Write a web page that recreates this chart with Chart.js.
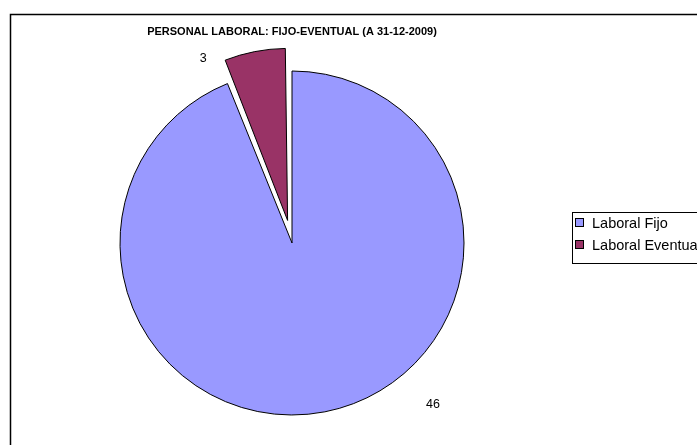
<!DOCTYPE html>
<html>
<head>
<meta charset="utf-8">
<script src="https://cdn.jsdelivr.net/npm/chart.js@4"></script>
<style>
  html, body { margin: 0; padding: 0; background: #fff; }
  #wrap { width: 697px; height: 445px; position: relative; overflow: hidden; }
  #inner { width: 697px; height: 480px; position: relative; }
</style>
</head>
<body>
<div id="wrap"><div id="inner"><canvas id="pieChart"></canvas></div></div>
<script>
// Data
const chartTitle = 'PERSONAL LABORAL: FIJO-EVENTUAL (A 31-12-2009)';
const categories = ['Laboral Fijo', 'Laboral Eventual'];
const values = [46, 3];
const sliceColors = ['#9999FF', '#993366'];
// Chart.js moves an arc by offset/4, so 92 -> about 23px
const sliceOffsets = [0, 92];

// where the value labels sit, relative to each slice (in radius units)
const labelPlace = [[0.82, 0.94], [-0.49, -0.94]];

// offset also grows the arc (by offset/4 * (1 - sin(circumference))):
// undo that so the exploded slice keeps the pie's radius
const keepRadiusPlugin = {
    id: 'keepRadius',
    afterDatasetsUpdate(chart){
        chart.getDatasetMeta(0).data.forEach((arc, i)=>{
            const off = sliceOffsets[i] / 4;
            const fix = 1 - Math.sin(Math.min(Math.PI, arc.circumference || 0));
            arc.outerRadius = Math.max(arc.outerRadius - off * fix, 0);
        });
    }
};

// frame, title, legend and value labels
const decorPlugin = {
    id: 'decor',
    beforeDraw(chart){
        const ctx = chart.ctx;
        ctx.save();
        ctx.fillStyle = '#fff';
        ctx.fillRect(0, 0, chart.width, chart.height);
        ctx.strokeStyle = '#000';
        ctx.lineWidth = 1.5;
        ctx.strokeRect(10.5, 14.5, 700, 450);
        ctx.restore();
    },
    afterDraw(chart){
        const ctx = chart.ctx;
        ctx.save();
        ctx.fillStyle = '#000';
        ctx.textAlign = 'center';
        ctx.textBaseline = 'middle';
        ctx.font = 'bold 11px "Liberation Sans", Arial, sans-serif';
        ctx.fillText(chartTitle, 292, 32);

        // value labels
        ctx.font = '12.5px "Liberation Sans", Arial, sans-serif';
        const meta = chart.getDatasetMeta(0);
        const r = meta.controller.outerRadius;
        meta.data.forEach((arc, i)=>{
            const p = arc.getProps(['x', 'y', 'startAngle', 'endAngle'], true);
            const mid = (p.startAngle + p.endAngle) / 2;
            const off = sliceOffsets[i] / 4;
            const cx = p.x + Math.cos(mid) * off;
            const cy = p.y + Math.sin(mid) * off;
            ctx.fillText(String(values[i]), cx + r * labelPlace[i][0], cy + r * labelPlace[i][1]);
        });

        // legend
        const lx = 572, ly = 212;
        ctx.lineWidth = 1;
        ctx.strokeStyle = '#000';
        ctx.strokeRect(lx + 0.5, ly + 0.5, 200, 51);
        ctx.textAlign = 'left';
        ctx.font = '14.5px "Liberation Sans", Arial, sans-serif';
        categories.forEach((c, i)=>{
            const y = 223 + i * 22;
            ctx.fillStyle = sliceColors[i];
            ctx.fillRect(lx + 3.5, y - 4.5, 8, 8);
            ctx.strokeRect(lx + 3.5, y - 4.5, 8, 8);
            ctx.fillStyle = '#000';
            ctx.fillText(c, lx + 20, y + 1);
        });
        ctx.restore();
    }
};

const ctx = document.getElementById('pieChart').getContext('2d');
new Chart(ctx, {
    type: 'pie',
    data: {
        labels: categories,
        datasets: [{
            data: values,
            backgroundColor: sliceColors,
            borderColor: '#000',
            borderWidth: 1,
            offset: sliceOffsets
        }]
    },
    options: {
        responsive: true,
        maintainAspectRatio: false,
        animation: false,
        rotation: 0,
        layout: { padding: { left: 73.5, right: 186.5, top: 24.5, bottom: 18.5 } },
        plugins: {
            legend: { display: false },
            title: { display: false },
            tooltip: { enabled: false }
        }
    },
    plugins: [keepRadiusPlugin, decorPlugin]
});
</script>
</body>
</html>
